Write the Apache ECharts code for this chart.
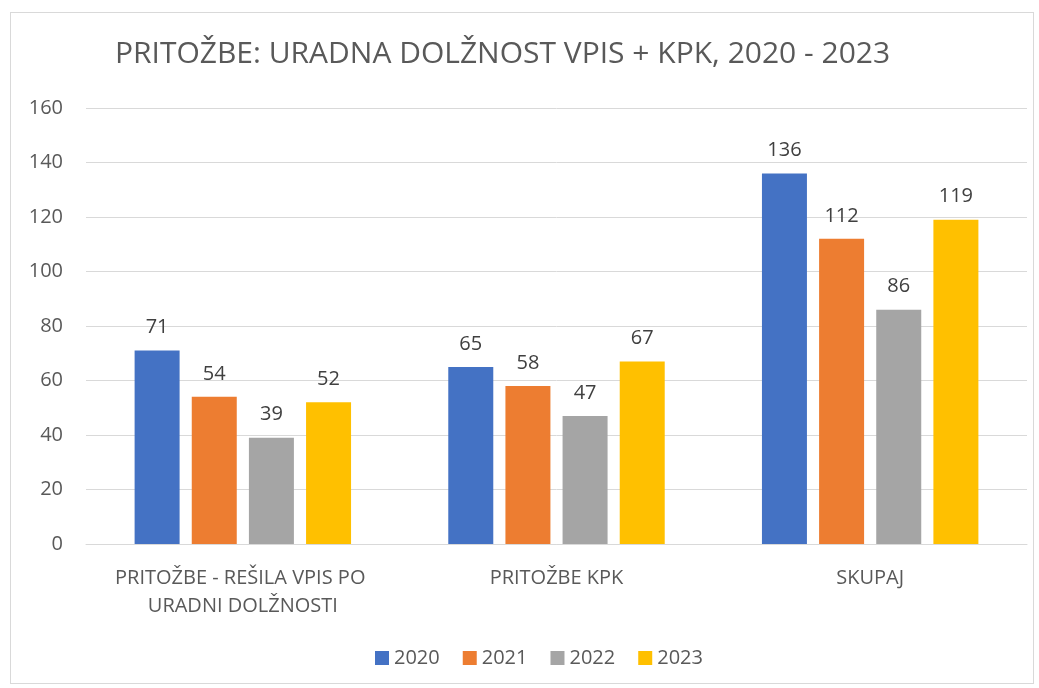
<!DOCTYPE html>
<html>
<head>
<meta charset="utf-8">
<script src="https://cdn.jsdelivr.net/npm/echarts@6/dist/echarts.min.js"></script>
<style>
html,body{margin:0;padding:0;background:#fff;}
#frame{position:absolute;left:10px;top:12px;width:1024px;height:672px;border:1px solid #d9d9d9;box-sizing:border-box;}
#chart{position:absolute;left:0;top:0;width:1039px;height:688px;}
</style>
</head>
<body>
<div id="frame"></div>
<div id="chart"></div>
<script>
const titleText = 'PRITOŽBE: URADNA DOLŽNOST VPIS + KPK, 2020 - 2023';
const categories = ['PRITOŽBE - REŠILA VPIS PO URADNI DOLŽNOSTI', 'PRITOŽBE KPK', 'SKUPAJ'];
const years = ['2020', '2021', '2022', '2023'];
const values2020 = [71, 65, 136];
const values2021 = [54, 58, 112];
const values2022 = [39, 47, 86];
const values2023 = [52, 67, 119];
const colors = ['#4472c4', '#ed7d31', '#a5a5a5', '#ffc000'];
const seriesValues = [values2020, values2021, values2022, values2023];

const chart = echarts.init(document.getElementById('chart'), null, {renderer: 'canvas'});
const font = '"Open Sans", "Noto Sans", sans-serif';
chart.setOption({
  animation: false,
  backgroundColor: 'transparent',
  title: {
    text: titleText,
    left: 110,
    top: 34,
    textStyle: {fontFamily: '"Open Sans", sans-serif', fontSize: 30, fontWeight: 'normal', color: '#595959'}
  },
  legend: {
    data: years,
    bottom: 15,
    left: 370,
    itemWidth: 14,
    itemHeight: 14,
    itemGap: 23,
    icon: 'rect',
    textStyle: {fontFamily: font, fontSize: 20, color: '#595959'}
  },
  grid: {left: 86, right: 12, top: 108, bottom: 144},
  xAxis: {
    type: 'category',
    data: categories,
    axisLine: {lineStyle: {color: '#d9d9d9', width: 1}},
    axisTick: {show: false},
    axisLabel: {fontFamily: font, fontSize: 20, color: '#595959', width: 290, overflow: 'break', lineHeight: 28, margin: 20, interval: 0}
  },
  yAxis: {
    type: 'value',
    min: 0, max: 160, interval: 20,
    axisLine: {show: false},
    axisTick: {show: false},
    splitLine: {lineStyle: {color: '#d9d9d9', width: 1}},
    axisLabel: {fontFamily: font, fontSize: 20, color: '#595959', margin: 23}
  },
  series: years.map((y, i) => ({
    name: y,
    type: 'bar',
    data: seriesValues[i],
    barWidth: 45,
    barGap: '27%',
    itemStyle: {color: colors[i]},
    label: {show: true, position: 'top', distance: 13, fontFamily: font, fontSize: 20, color: '#404040'}
  }))
});
</script>
</body>
</html>
